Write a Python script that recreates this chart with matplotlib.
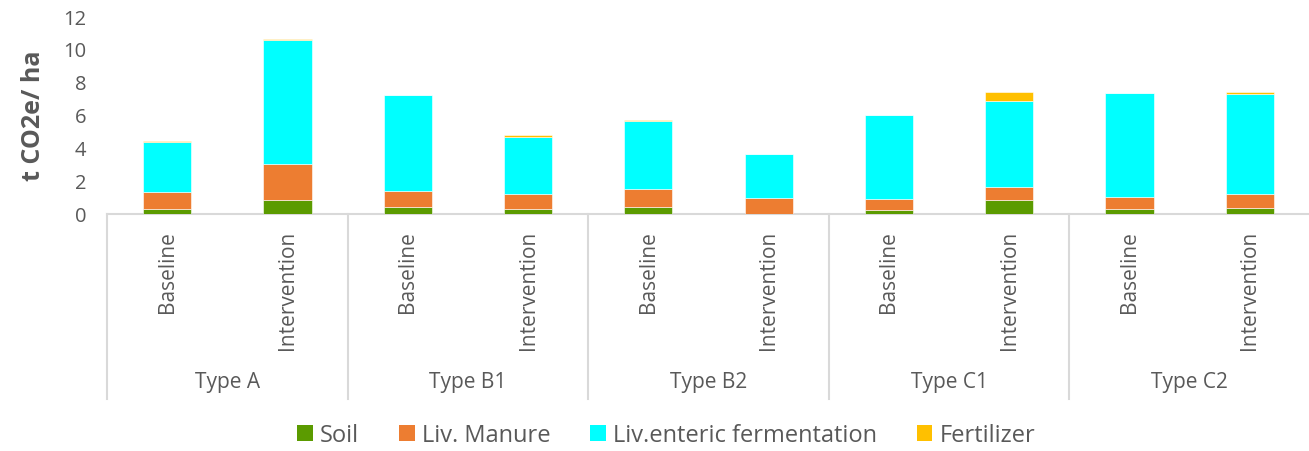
import matplotlib
matplotlib.use("Agg")
import matplotlib.pyplot as plt
from matplotlib.lines import Line2D
from matplotlib.patches import Patch
import numpy as np

plt.rcParams['font.family'] = ['Open Sans', 'DejaVu Sans']

groups = ["Type A", "Type B1", "Type B2", "Type C1", "Type C2"]
scenarios = ["Baseline", "Intervention"]

series_names = ["Soil", "Liv. Manure", "Liv.enteric fermentation", "Fertilizer"]
soil = [0.29, 0.79, 0.42, 0.30, 0.38, 0.00, 0.23, 0.79, 0.30, 0.36]
manure = [1.01, 2.21, 0.92, 0.86, 1.08, 0.97, 0.66, 0.79, 0.73, 0.85]
enteric = [3.07, 7.55, 5.83, 3.47, 4.14, 2.64, 5.11, 5.28, 6.29, 6.08]
fertilizer = [0.05, 0.07, 0.06, 0.11, 0.06, 0.03, 0.00, 0.53, 0.00, 0.10]

colors = ["#5B9B00", "#ED7D31", "#00FFFF", "#FFC000"]
text_color = "#595959"
line_color = "#D9D9D9"

fig = plt.figure(figsize=(13.09, 4.52), dpi=100)
ax = fig.add_axes([107 / 1309, 1 - 214.5 / 452, 1203 / 1309, 197.5 / 452])

x = np.arange(len(groups) * len(scenarios))
bottom = np.zeros(len(x))
for vals, col, name in zip([soil, manure, enteric, fertilizer], colors, series_names):
    vals = np.array(vals)
    ax.bar(x, vals, width=0.4, bottom=bottom, color=col, edgecolor="white",
           linewidth=0.4, label=name, zorder=3)
    bottom += vals

ax.set_xlim(-0.5, len(x) - 0.5)
ax.set_ylim(0, 12)
ax.set_yticks(np.arange(0, 13, 2))
ax.tick_params(axis='y', length=0, labelsize=14.5, labelcolor=text_color, pad=15)
ax.set_xticks(x)
ax.set_xticklabels(scenarios * len(groups), rotation=90, va='top', ha='center')
ax.tick_params(axis='x', length=0, labelsize=15, labelcolor=text_color, pad=12)

for side in ["top", "right", "left"]:
    ax.spines[side].set_visible(False)
ax.spines["bottom"].set_color(line_color)
ax.spines["bottom"].set_linewidth(1.5)

ax.set_ylabel("t CO2e/ ha", fontsize=18, fontweight='bold', color=text_color, labelpad=12)

trans = ax.get_xaxis_transform()
n_per = len(scenarios)
for i in range(len(groups) + 1):
    xb = i * n_per - 0.5
    ax.add_line(Line2D([xb, xb], [0, -0.94], transform=trans, color=line_color,
                       linewidth=1.5, clip_on=False))
for i, g in enumerate(groups):
    xc = i * n_per + (n_per - 1) / 2
    ax.text(xc, -0.853, g, transform=trans, ha='center', va='center',
            fontsize=15, color=text_color)

handles = [Patch(facecolor=c, edgecolor='none') for c in colors]
fig.legend(handles, series_names, loc='center', bbox_to_anchor=(0.509, 1 - 436 / 452),
           ncol=4, frameon=False, fontsize=17, labelcolor=text_color,
           handlelength=0.65, handleheight=0.65, handletextpad=0.3, columnspacing=1.7)

fig.savefig("out.png", dpi=100)
